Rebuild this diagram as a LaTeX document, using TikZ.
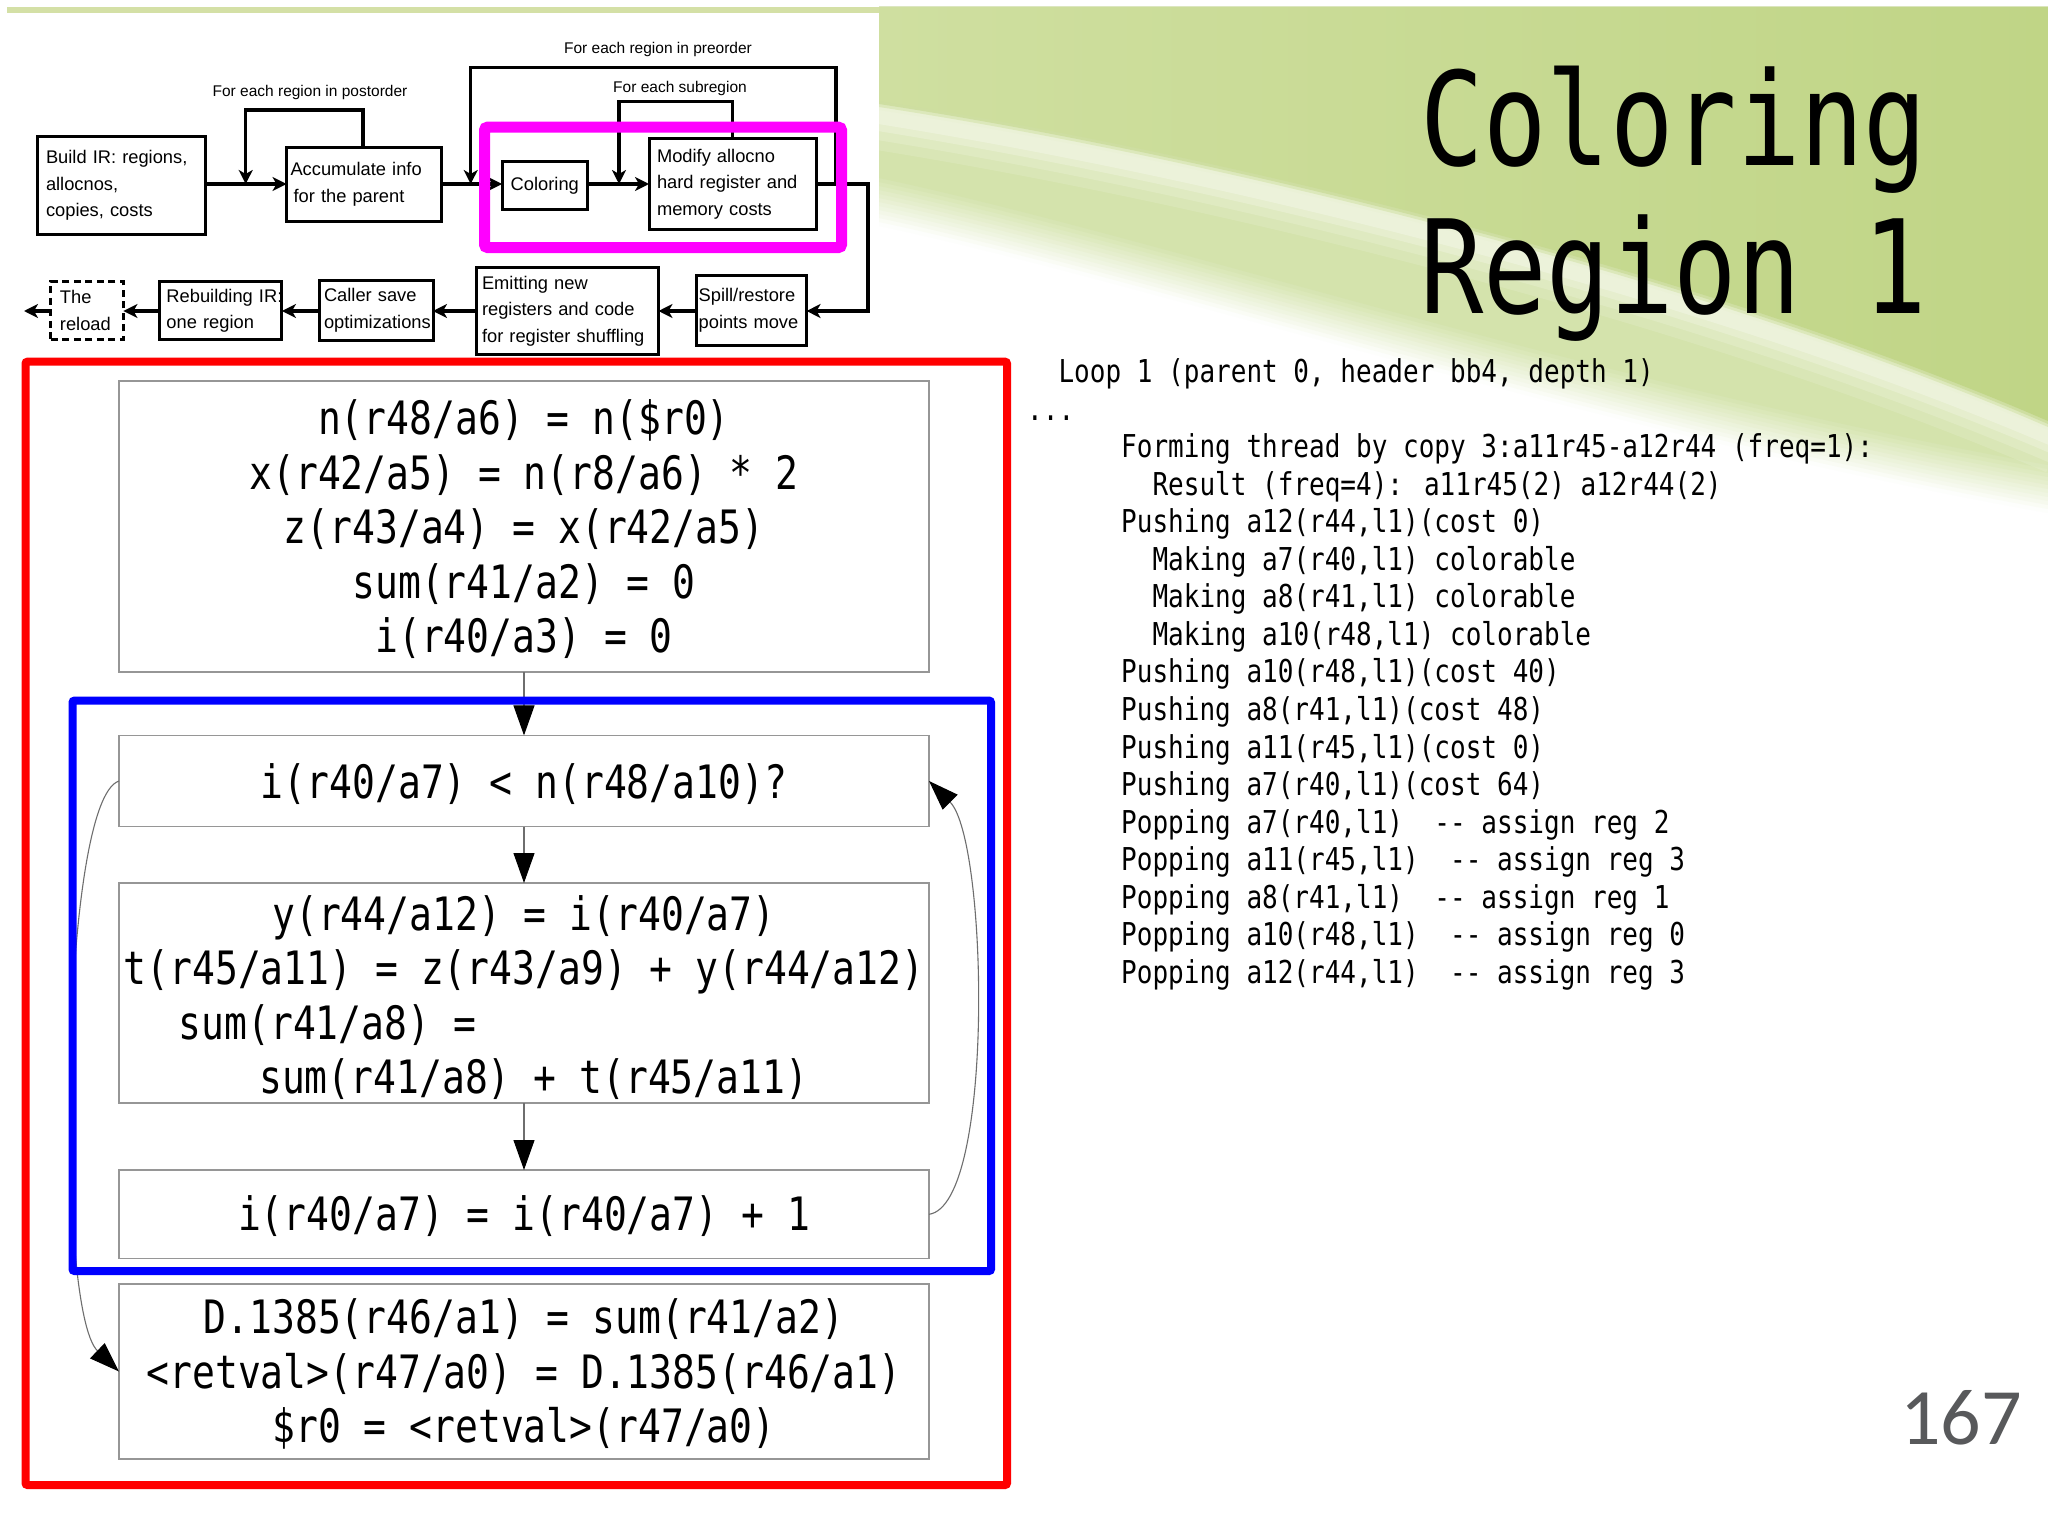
\documentclass[tikz,border=0pt]{standalone}
\usepackage{fontspec}
\usetikzlibrary{arrows.meta}
\newfontfamily\codefont[FakeStretch=0.826]{DejaVu Sans Mono}
\newfontfamily\titlefont[FakeStretch=0.81]{DejaVu Sans Mono}
\newfontfamily\diagfont{Liberation Sans}
\newfontfamily\numfont{Carlito}
\definecolor{bgreen}{RGB}{192,213,134}
\definecolor{lgreen}{RGB}{207,223,160}
\definecolor{pgreen}{RGB}{212,227,172}
\definecolor{bandgreen}{RGB}{212,224,166}
\definecolor{boxgray}{RGB}{150,150,150}
\definecolor{edgegray}{RGB}{110,110,110}
\definecolor{pagegray}{RGB}{88,89,91}
\definecolor{hmagenta}{RGB}{255,0,255}
\definecolor{hred}{RGB}{255,0,0}
\definecolor{hblue}{RGB}{0,0,255}
\lefthyphenmin=62
\tikzset{
 topbox/.style={draw=black, line width=3pt, inner ysep=0pt, outer sep=0pt, align=left,
   font=\diagfont\fontsize{18.3}{26.5}\selectfont},
 toplabel/.style={font=\diagfont\fontsize{15.5}{18}\selectfont, inner sep=0pt},
 topline/.style={line width=3.2pt},
 toparrow/.style={topline, -{Stealth[length=14pt,width=14pt,inset=4pt]}},
 gvbox/.style={draw=boxgray, line width=1.3pt, minimum width=810pt, inner sep=0pt, outer sep=0pt},
 gvtext/.style={font=\codefont\fontsize{46}{54.5}\selectfont, inner sep=0pt, anchor=base},
 gvedge/.style={draw=edgegray, line width=1.1pt, -{Triangle[length=30pt,width=21pt,color=black,fill=black]}},
 codetext/.style={font=\codefont\fontsize{31.5}{37.5}\selectfont, inner sep=0pt, anchor=base west},
 titletext/.style={font=\titlefont\fontsize{130}{148}\selectfont, inner sep=0pt, anchor=base west},
}
\begin{document}
\begin{tikzpicture}[x=1pt,y=-1pt]
\useasboundingbox (0,0) rectangle (2048,1536);
\fill[white] (0,0) rectangle (2048,1536);
% ---------- background ----------
% lower light swoosh, fading to white
\foreach \k in {12,...,1}{
  \pgfmathsetmacro\pc{100-8*\k}
  \fill[pgreen!\pc!white] (879,7) -- (2048,7) -- (2048,{465+4*\k})
     .. controls (1600,{385+4*\k}) and (1150,{235+4*\k}) .. (879,{178+4*\k}) -- cycle;
}
\fill[pgreen] (879,7) -- (2048,7) -- (2048,465)
     .. controls (1600,385) and (1150,235) .. (879,178) -- cycle;
% shine just below the upper swoosh edge
\foreach \w/\o in {70/0.12,50/0.16,32/0.22,18/0.26}{
  \draw[white, opacity=\o, line width=\w pt] (860,112) .. controls (1200,165) and (1700,285) .. (2060,440);
}
% main green area
\foreach \k in {3,2,1}{
  \pgfmathsetmacro\pc{100-22*\k}
  \fill[bgreen!\pc!white] (879,7) -- (2048,7) -- (2048,{421+3*\k})
     .. controls (1700,{270+3*\k}) and (1200,{150+3*\k}) .. (879,{101+3*\k}) -- cycle;
}
\shade[left color=lgreen, right color=bgreen] (879,7) -- (2048,7) -- (2048,421)
     .. controls (1700,270) and (1200,150) .. (879,101) -- cycle;
\fill[bandgreen] (7,7) rectangle (879,13);
\fill[white] (7,13) rectangle (879,356);

% ---------- top flow diagram ----------
\coordinate (mainy) at (0,184);
\coordinate (boty) at (0,311);
\node[topbox, minimum width=168pt, minimum height=97pt, inner xsep=9pt, text width=150pt] (build) at (121,185.5)
  {\mbox{Build IR: regions,}\\\mbox{allocnos,}\\\mbox{copies, costs}};
\node[topbox, minimum width=155pt, minimum height=74pt, inner xsep=4pt, text width=147pt] (accum) at (364,184.5)
  {\mbox{Accumulate info}\\\mbox{\,for the parent}};
\node[topbox, minimum width=85.5pt, minimum height=47.5pt, inner xsep=0pt, align=center] (color) at (544.8,185.7) {Coloring};
\node[topbox, minimum width=167pt, minimum height=90.5pt, inner xsep=8pt, text width=151pt] (modify) at (732.5,184.2)
  {\mbox{Modify allocno}\\\mbox{hard register and}\\\mbox{memory costs}};
\node[topbox, minimum width=110.5pt, minimum height=69.7pt, inner xsep=2.6pt, text width=105.3pt] (spill) at (751.3,310.4)
  {\mbox{Spill/restore}\\\mbox{points move}};
\node[topbox, minimum width=182pt, minimum height=87.5pt, inner xsep=5.5pt, text width=171pt] (emit) at (567.5,310.8)
  {\mbox{Emitting new}\\\mbox{registers and code}\\\mbox{for register shuffling}};
\node[topbox, minimum width=114pt, minimum height=60pt, inner xsep=5pt, text width=104pt] (caller) at (376,310.5)
  {\mbox{Caller save}\\\mbox{optimizations}};
\node[topbox, minimum width=122.5pt, minimum height=57.5pt, inner xsep=7pt, text width=108.5pt] (rebuild) at (220.7,310.7)
  {\mbox{Rebuilding IR:}\\\mbox{one region}};
\node[topbox, dash pattern=on 7pt off 4.5pt, minimum width=72.5pt, minimum height=57.5pt, inner xsep=9pt, text width=54.5pt] (reload) at (87.2,310.7)
  {\mbox{The}\\\mbox{reload}};

\node[toplabel] (lpost) at (310,92) {For each region in postorder};
\node[toplabel] (lpre) at (658,49.5) {For each region in preorder};
\node[toplabel] (lsub) at (680,88) {For each subregion};

\coordinate (postx) at (363,110);
\coordinate (postin) at (245.7,184);
\coordinate (preout) at (836,184);
\coordinate (prex) at (836,67.7);
\coordinate (prein) at (470.7,184);
\coordinate (subx) at (732.5,101.7);
\coordinate (subin) at (619,184);
\coordinate (rturn) at (868,311);
\coordinate (exitpt) at (24,311);

\draw[toparrow] (build.east |- mainy) -- (accum.west |- mainy);
\draw[toparrow] (accum.north -| postx) -- (postx) -| (postin);
\draw[toparrow] (accum.east |- mainy) -- (color.west |- mainy);
\draw[toparrow] (preout) -- (prex) -| (prein);
\draw[toparrow] (color.east |- mainy) -- (modify.west |- mainy);
\draw[toparrow] (modify.north -| subx) -- (subx) -| (subin);
\draw[toparrow] (modify.east |- mainy) -| (rturn) -- (spill.east |- rturn);
\draw[toparrow] (spill.west |- boty) -- (emit.east |- boty);
\draw[toparrow] (emit.west |- boty) -- (caller.east |- boty);
\draw[toparrow] (caller.west |- boty) -- (rebuild.east |- boty);
\draw[toparrow] (rebuild.west |- boty) -- (reload.east |- boty);
\draw[toparrow] (reload.west |- boty) -- (exitpt);

\draw[hmagenta, line width=11pt, rounded corners=3pt] (484.5,127.2) rectangle (841.5,247.5);

% ---------- graphviz region ----------
\node[gvbox, minimum height=291pt] (n1) at (524,526.5) {};
\node[gvbox, minimum height=91.2pt] (n2) at (524,781) {};
\node[gvbox, minimum height=220pt] (n3) at (524,993) {};
\node[gvbox, minimum height=88.6pt] (n4) at (524,1214.3) {};
\node[gvbox, minimum height=175pt] (n5) at (524,1371.5) {};

\node[gvtext] (a1) at (524,434.5) {n(r48/a6) = n(\$r0)};
\node[gvtext] (a2) at (524,489) {x(r42/a5) = n(r8/a6) * 2};
\node[gvtext] (a3) at (524,543.5) {z(r43/a4) = x(r42/a5)};
\node[gvtext] (a4) at (524,598) {sum(r41/a2) = 0};
\node[gvtext] (a5) at (524,652.5) {i(r40/a3) = 0};

\node[gvtext] (b1) at (524,798) {i(r40/a7) < n(r48/a10)?};

\node[gvtext] (c1) at (524,930) {y(r44/a12) = i(r40/a7)};
\node[gvtext] (c2) at (524,984.5) {t(r45/a11) = z(r43/a9) + y(r44/a12)};
\node[gvtext, anchor=base west] (c3) at (178.5,1039) {sum(r41/a8) =};
\node[gvtext, anchor=base west] (c4) at (259,1093.5) {sum(r41/a8) + t(r45/a11)};

\node[gvtext] (d1) at (524,1230) {i(r40/a7) = i(r40/a7) + 1};

\node[gvtext] (e1) at (524,1333.5) {D.1385(r46/a1) = sum(r41/a2)};
\node[gvtext] (e2) at (524,1388) {<retval>(r47/a0) = D.1385(r46/a1)};
\node[gvtext] (e3) at (524,1442.5) {\$r0 = <retval>(r47/a0)};

\draw[gvedge] (n1.south) -- (n2.north);
\draw[gvedge] (n2.south) -- (n3.north);
\draw[gvedge] (n3.south) -- (n4.north);
\draw[gvedge] (n4.east) .. controls (995,1205) and (988,840) .. (n2.east);
\draw[gvedge] (n2.west) .. controls (60,800) and (55,1310) .. (n5.west);

\draw[hblue, line width=8pt, rounded corners=2pt] (72.5,700.6) rectangle (991,1271);
\draw[hred, line width=8pt, rounded corners=2pt] (25.5,361.7) rectangle (1007,1485);

% ---------- title ----------
\node[titletext] (title1) at (1420,165) {Coloring};
\node[titletext] (title2) at (1420,313) {Region 1};

% ---------- log text ----------
\node[codetext] (t0) at (1027,382.5) {~~Loop 1 (parent 0, header bb4, depth 1)};
\node[codetext] (t1) at (1027,420.05) {...};
\node[codetext] (t2) at (1027,457.6) {~~~~~~Forming thread by copy 3:a11r45-a12r44 (freq=1):};
\node[codetext] (t3) at (1027,495.15) {~~~~~~~~Result (freq=4): a11r45(2) a12r44(2)};
\node[codetext] (t4) at (1027,532.7) {~~~~~~Pushing a12(r44,l1)(cost 0)};
\node[codetext] (t5) at (1027,570.25) {~~~~~~~~Making a7(r40,l1) colorable};
\node[codetext] (t6) at (1027,607.8) {~~~~~~~~Making a8(r41,l1) colorable};
\node[codetext] (t7) at (1027,645.35) {~~~~~~~~Making a10(r48,l1) colorable};
\node[codetext] (t8) at (1027,682.9) {~~~~~~Pushing a10(r48,l1)(cost 40)};
\node[codetext] (t9) at (1027,720.45) {~~~~~~Pushing a8(r41,l1)(cost 48)};
\node[codetext] (t10) at (1027,758) {~~~~~~Pushing a11(r45,l1)(cost 0)};
\node[codetext] (t11) at (1027,795.55) {~~~~~~Pushing a7(r40,l1)(cost 64)};
\node[codetext] (t12) at (1027,833.1) {~~~~~~Popping a7(r40,l1)~~-\kern0pt- assign reg 2};
\node[codetext] (t13) at (1027,870.65) {~~~~~~Popping a11(r45,l1)~~-\kern0pt- assign reg 3};
\node[codetext] (t14) at (1027,908.2) {~~~~~~Popping a8(r41,l1)~~-\kern0pt- assign reg 1};
\node[codetext] (t15) at (1027,945.75) {~~~~~~Popping a10(r48,l1)~~-\kern0pt- assign reg 0};
\node[codetext] (t16) at (1027,983.3) {~~~~~~Popping a12(r44,l1)~~-\kern0pt- assign reg 3};

\node[font=\numfont\fontsize{80}{90}\selectfont, text=pagegray, anchor=base east, inner sep=0pt] (pagenum) at (2022,1444) {167};
\end{tikzpicture}
\end{document}
